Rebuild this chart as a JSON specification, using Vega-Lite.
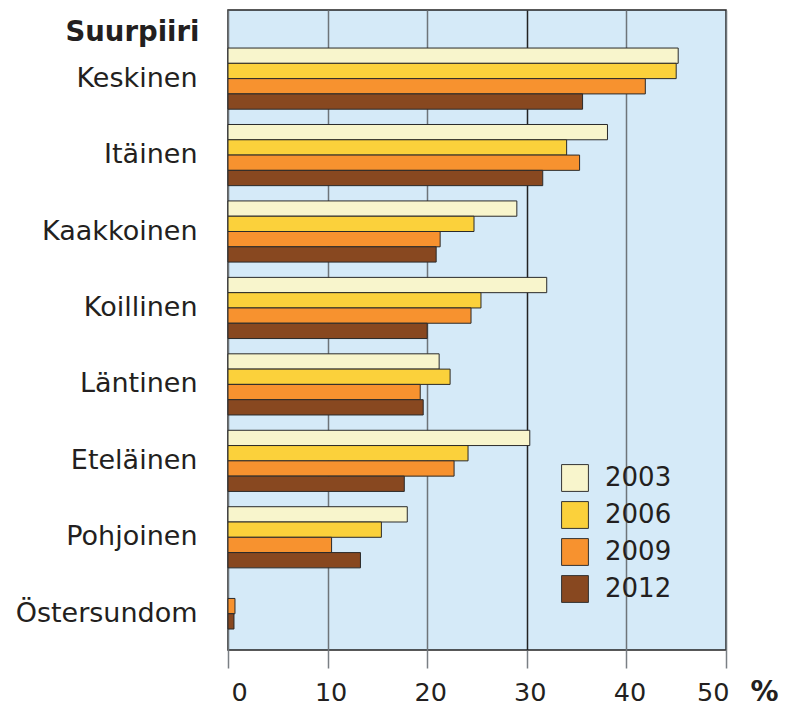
{
  "$schema": "https://vega.github.io/schema/vega-lite/v6.json",
  "autosize": {"type": "none"},
  "padding": {"left": 228, "top": 10, "right": 60, "bottom": 56},
  "width": 498,
  "height": 640,
  "background": "#ffffff",
  "config": {
    "font": "DejaVu Sans",
    "view": {"fill": "#D5EAF8", "stroke": "#222222", "strokeWidth": 1.5}
  },
  "data": {"values": [
    {"district": "Keskinen", "year": "2003", "value": 45.2},
    {"district": "Keskinen", "year": "2006", "value": 45.0},
    {"district": "Keskinen", "year": "2009", "value": 41.9},
    {"district": "Keskinen", "year": "2012", "value": 35.6},
    {"district": "Itäinen", "year": "2003", "value": 38.1},
    {"district": "Itäinen", "year": "2006", "value": 34.0},
    {"district": "Itäinen", "year": "2009", "value": 35.3},
    {"district": "Itäinen", "year": "2012", "value": 31.6},
    {"district": "Kaakkoinen", "year": "2003", "value": 29.0},
    {"district": "Kaakkoinen", "year": "2006", "value": 24.7},
    {"district": "Kaakkoinen", "year": "2009", "value": 21.3},
    {"district": "Kaakkoinen", "year": "2012", "value": 20.9},
    {"district": "Koillinen", "year": "2003", "value": 32.0},
    {"district": "Koillinen", "year": "2006", "value": 25.4},
    {"district": "Koillinen", "year": "2009", "value": 24.4},
    {"district": "Koillinen", "year": "2012", "value": 20.0},
    {"district": "Läntinen", "year": "2003", "value": 21.2},
    {"district": "Läntinen", "year": "2006", "value": 22.3},
    {"district": "Läntinen", "year": "2009", "value": 19.3},
    {"district": "Läntinen", "year": "2012", "value": 19.6},
    {"district": "Eteläinen", "year": "2003", "value": 30.3},
    {"district": "Eteläinen", "year": "2006", "value": 24.1},
    {"district": "Eteläinen", "year": "2009", "value": 22.7},
    {"district": "Eteläinen", "year": "2012", "value": 17.7},
    {"district": "Pohjoinen", "year": "2003", "value": 18.0},
    {"district": "Pohjoinen", "year": "2006", "value": 15.4},
    {"district": "Pohjoinen", "year": "2009", "value": 10.4},
    {"district": "Pohjoinen", "year": "2012", "value": 13.3},
    {"district": "Östersundom", "year": "2009", "value": 0.7},
    {"district": "Östersundom", "year": "2012", "value": 0.6}
  ]},
  "encoding": {
    "y": {
      "field": "district", "type": "nominal",
      "scale": {
        "domain": ["Keskinen", "Itäinen", "Kaakkoinen", "Koillinen", "Läntinen", "Eteläinen", "Pohjoinen", "Östersundom"],
        "paddingInner": 0.2, "paddingOuter": 0.286, "align": 0.87
      },
      "axis": {
        "domain": false, "ticks": false, "grid": false,
        "labelFontSize": 27, "labelColor": "#231f20", "labelPadding": 31, "labelLimit": 400,
        "title": "Suurpiiri", "titleAngle": 0, "titleAlign": "right", "titleBaseline": "middle",
        "titleX": -29, "titleY": 22, "titleFontWeight": "bold", "titleFontSize": 27.5, "titleColor": "#231f20"
      }
    },
    "x": {
      "field": "value", "type": "quantitative",
      "scale": {"domain": [0, 50], "nice": false},
      "axis": {
        "values": [0, 10, 20, 30, 40, 50],
        "domain": false, "tickSize": 18, "tickColor": "#7a7f84", "tickWidth": 1.5,
        "grid": true, "gridColor": {"condition": {"test": "datum.value === 30", "value": "#222222"}, "value": "#6e7479"}, "gridWidth": 1.5,
        "labelFontSize": 25.5, "labelColor": "#231f20", "labelPadding": 12, "labelOffset": 3,
        "title": "%", "titleFontWeight": "bold", "titleFontSize": 28, "titleColor": "#231f20",
        "titleX": 522, "titleY": 50, "titleAlign": "left", "titleBaseline": "alphabetic"
      }
    },
    "color": {
      "field": "year", "type": "nominal",
      "scale": {"domain": ["2003", "2006", "2009", "2012"], "range": ["#F8F5CC", "#FBD13B", "#F7922F", "#884820"]},
      "legend": {
        "title": null, "orient": "none", "legendX": 333, "legendY": 454,
        "symbolType": "square", "symbolSize": 720, "symbolStrokeColor": "#333333", "symbolStrokeWidth": 1,
        "symbolOpacity": 1,
        "labelFontSize": 26, "labelColor": "#231f20", "labelOffset": 16, "rowPadding": 5, "padding": 0
      }
    }
  },
  "layer": [
    {
      "transform": [{"filter": "datum.district !== 'Östersundom'"}],
      "mark": {"type": "bar", "stroke": "#2a2a2a", "strokeWidth": 1},
      "encoding": {
        "yOffset": {"field": "year", "type": "nominal", "scale": {"domain": ["2003", "2006", "2009", "2012"]}}
      }
    },
    {
      "transform": [{"filter": "datum.district === 'Östersundom'"}],
      "mark": {"type": "bar", "stroke": "#2a2a2a", "strokeWidth": 1},
      "encoding": {
        "yOffset": {"field": "year", "type": "nominal", "scale": {"domain": ["2009", "2012"], "paddingInner": 0, "paddingOuter": 1}}
      }
    }
  ],
  "resolve": {"scale": {"yOffset": "independent"}}
}
